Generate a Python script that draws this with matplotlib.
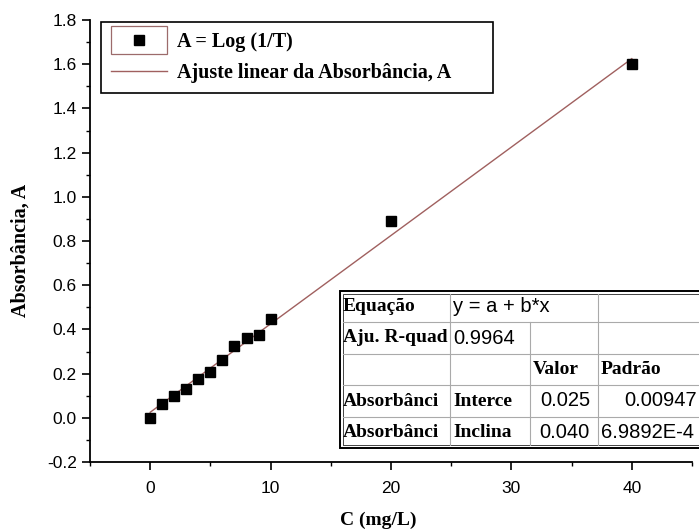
import matplotlib
matplotlib.use('Agg')
import matplotlib.pyplot as plt
from matplotlib.ticker import MultipleLocator
from matplotlib.lines import Line2D
from matplotlib.patches import Rectangle

# data
conc = [0, 1, 2, 3, 4, 5, 6, 7, 8, 9, 10, 20, 40]
absorb = [-0.003, 0.063, 0.10, 0.13, 0.175, 0.208, 0.26, 0.326, 0.36, 0.375,
          0.448, 0.891, 1.60]
fit_a = 0.025
fit_b = 0.040
fit_x = [0, 40]

table_rows = [
    ['Equação', 'y = a + b*x', '', ''],
    ['Aju. R-quad', '0.9964', '', ''],
    ['', '', 'Valor', 'Padrão'],
    ['Absorbânci', 'Interce', '0.025', '0.00947'],
    ['Absorbânci', 'Inclina', '0.040', '6.9892E-4'],
]

W, H = 699, 529
serif = 'Liberation Serif'
sans = 'Liberation Sans'
plt.rcParams['font.family'] = sans

fig = plt.figure(figsize=(W / 100, H / 100), dpi=100)
ax = fig.add_axes([90 / W, 1 - 462 / H, (692 - 90) / W, (462 - 20) / H])

line_col = '#a0605f'
fit_y = [fit_a + fit_b * x for x in fit_x]
ax.plot(fit_x, fit_y, color=line_col, lw=1.0,
        label='Ajuste linear da Absorbância, A', zorder=2)
ax.plot(conc, absorb, 's', color='black', markersize=6.5,
        label='A = Log (1/T)', zorder=3)

ax.set_xlim(-5, 45)
ax.set_ylim(-0.2, 1.8)
ax.xaxis.set_major_locator(MultipleLocator(10))
ax.xaxis.set_minor_locator(MultipleLocator(5))
ax.yaxis.set_major_locator(MultipleLocator(0.2))
ax.yaxis.set_minor_locator(MultipleLocator(0.1))
ax.yaxis.set_major_formatter(matplotlib.ticker.FormatStrFormatter('%.1f'))
for s in ['top', 'right']:
    ax.spines[s].set_visible(False)
for s in ['left', 'bottom']:
    ax.spines[s].set_linewidth(1.3)
ax.tick_params(which='major', direction='out', length=6, width=1.2,
               labelsize=12.5)
ax.tick_params(which='minor', direction='out', length=3, width=1.0)
ax.tick_params(axis='x', pad=8)

ax.set_xlabel('C (mg/L)', family=serif, weight='bold', fontsize=14, va='center')
ax.xaxis.set_label_coords((378 - 90) / 602, (462 - 520) / 442)
ax.set_ylabel('Absorbância, A', family=serif, weight='bold', fontsize=14.5,
              va='center')
ax.yaxis.set_label_coords((21 - 90) / 602, (462 - 250) / 442)

# legend
handles, labels = ax.get_legend_handles_labels()
leg = ax.legend(handles[::-1], labels[::-1],
                loc='upper left', mode='expand',
                bbox_to_anchor=(101 / W, 1 - 86 / H, (493 - 101) / W, (86 - 22) / H),
                bbox_transform=fig.transFigure, borderaxespad=0,
                borderpad=0.5, handlelength=2.8, handletextpad=0.45,
                labelspacing=0.55, fancybox=False, edgecolor='black',
                framealpha=1, prop={'family': serif, 'weight': 'bold', 'size': 14.5})
leg.get_frame().set_linewidth(1.2)


def fx(x):
    return x / W


def fy(y):
    return 1 - y / H


# small box round the marker symbol, centred on it
fig.canvas.draw()
mk = leg.legend_handles[0].get_window_extent(fig.canvas.get_renderer())
cx = (mk.x0 + mk.x1) / 2 / W
cy = (mk.y0 + mk.y1) / 2 / H
bw, bh = 56 / W, 28.5 / H
fig.add_artist(Rectangle((cx - bw / 2, cy - bh / 2), bw, bh,
                         transform=fig.transFigure, fill=False,
                         edgecolor='#9c6b6b', lw=0.9, zorder=10))

# fit results table
x0, x1 = 340, 730
rows_y = [291, 322, 354, 385, 417, 448]
cols_x = [340, 450, 530, 598, 730]

fig.add_artist(Rectangle((fx(x0), fy(rows_y[-1])), fx(x1) - fx(x0),
                         fy(rows_y[0]) - fy(rows_y[-1]), transform=fig.transFigure,
                         facecolor='white', edgecolor='black', lw=1.4, zorder=5))
fig.add_artist(Rectangle((fx(x0 + 3), fy(rows_y[-1] - 3)), fx(x1) - fx(x0 + 3),
                         fy(rows_y[0] + 3) - fy(rows_y[-1] - 3),
                         transform=fig.transFigure, fill=False,
                         edgecolor='#444444', lw=0.7, zorder=6))

grid_col = '#aaaaaa'
for y in rows_y[1:-1]:
    fig.add_artist(Line2D([fx(x0 + 3), fx(x1)], [fy(y), fy(y)], color=grid_col,
                          lw=0.8, transform=fig.transFigure, zorder=6))
for j, x in enumerate(cols_x[1:-1], start=1):
    top = rows_y[1] if j == 2 else rows_y[0] + 3
    fig.add_artist(Line2D([fx(x), fx(x)], [fy(top), fy(rows_y[-1] - 3)],
                          color=grid_col, lw=0.8, transform=fig.transFigure,
                          zorder=6))

bold_cells = {(0, 0), (1, 0), (2, 2), (2, 3), (3, 0), (3, 1), (4, 0), (4, 1)}
for i, row in enumerate(table_rows):
    yc = (rows_y[i] + rows_y[i + 1]) / 2
    for j, txt in enumerate(row):
        if not txt:
            continue
        if (i, j) in bold_cells:
            kw = dict(family=serif, weight='bold', fontsize=14)
        else:
            kw = dict(family=sans, fontsize=14.5)
        ha = 'left'
        x = cols_x[j] + 3
        if j == 0:
            x = 343
        if i >= 3 and j == 2:
            ha, x = 'right', 590
        if i == 3 and j == 3:
            ha, x = 'right', 697
        fig.text(fx(x), fy(yc), txt, ha=ha, va='center', zorder=7, **kw)

fig.savefig('out.png', dpi=100)
